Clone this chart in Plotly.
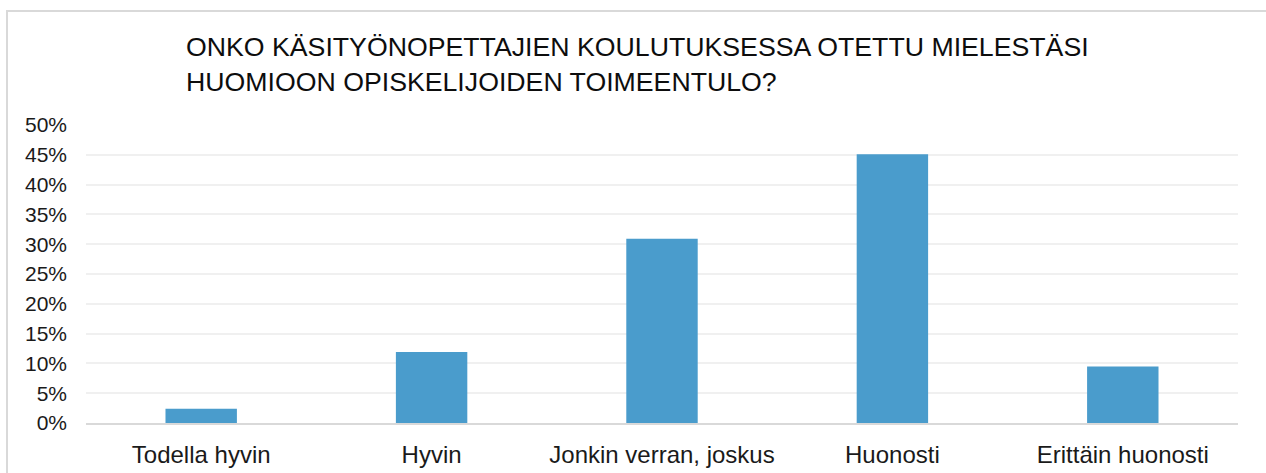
import plotly.graph_objects as go

categories = ["Todella hyvin", "Hyvin", "Jonkin verran, joskus", "Huonosti", "Erittäin huonosti"]
values = [0.024, 0.119, 0.309, 0.451, 0.095]
title_lines = ["ONKO KÄSITYÖNOPETTAJIEN KOULUTUKSESSA OTETTU MIELESTÄSI",
               "HUOMIOON OPISKELIJOIDEN TOIMEENTULO?"]

W, H = 1266, 473
L, R, T, B = 86, 28, 125, 50
pw, ph = W - L - R, H - T - B

def px_x(x):
    return (x - L) / pw

def px_y(y):
    return (H - B - y) / ph

fig = go.Figure()
fig.add_trace(go.Bar(x=categories, y=values, marker=dict(color="#4A9CCC", line=dict(width=0)),
                     width=0.31))

fig.update_layout(
    width=W, height=H, autosize=False,
    margin=dict(l=L, r=R, t=T, b=B, pad=0, autoexpand=False),
    paper_bgcolor="white", plot_bgcolor="white",
    font=dict(family="Liberation Sans, Arial, sans-serif", color="#262626"),
    showlegend=False,
    bargap=0.69,
    xaxis=dict(showgrid=False, showline=True, linecolor="#D9D9D9", linewidth=2,
               automargin=False,
               ticks="", tickfont=dict(size=24, color="#1a1a1a"), ticklabelstandoff=9),
    yaxis=dict(range=[0, 0.5], dtick=0.05, tickformat=".0%", showgrid=True,
               automargin=False,
               gridcolor="#F0F0F0", gridwidth=2, zeroline=False, showline=False,
               ticks="", tickfont=dict(size=21, color="#1a1a1a"), ticklabelstandoff=18),
    annotations=[dict(text="<br>".join(title_lines), xref="paper", yref="paper",
                      x=px_x(184), y=px_y(30), xanchor="left", yanchor="top",
                      align="left", showarrow=False,
                      font=dict(size=26.7, color="#0d0d0d"))],
    shapes=[dict(type="rect", xref="paper", yref="paper", x0=px_x(7), x1=px_x(1275),
                 y0=px_y(485), y1=px_y(11), line=dict(color="#D9D9D9", width=2),
                 fillcolor="rgba(0,0,0,0)", layer="below")],
)

fig.write_html("out.html")
